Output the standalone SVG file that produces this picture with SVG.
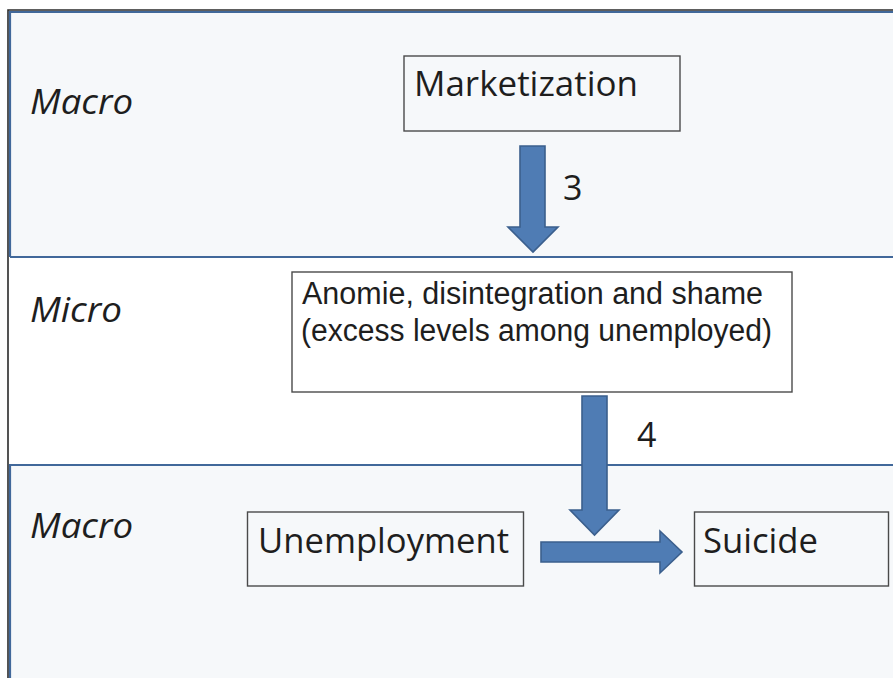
<svg xmlns="http://www.w3.org/2000/svg" width="893" height="678" viewBox="0 0 893 678">
  <style>
    .band { fill: #f6f8fa; }
    .bline { stroke: #41689a; stroke-width: 2.2; fill: none; }
    .frame { stroke: #2a2a2a; stroke-width: 1.6; fill: none; }
    .box { fill: none; stroke: #4a4a4a; stroke-width: 1.4; }
    .lbl { font-family: "Open Sans", "Liberation Sans", sans-serif; font-size: 34px; fill: #1e1e1e; }
    .sm { font-family: "Liberation Sans", "Open Sans", sans-serif; font-size: 31px; }
    .lvl { font-family: "Open Sans", "Liberation Sans", sans-serif; font-size: 34px; font-style: italic; fill: #1e1e1e; }
    .arrow { fill: #4f7cb4; stroke: #3b5f8d; stroke-width: 1.6; stroke-linejoin: miter; }
  </style>
  <rect x="0" y="0" width="893" height="678" fill="#ffffff"/>
  <g id="bands">
    <rect class="band" x="9" y="11" width="890" height="246"/>
    <rect class="band" x="9" y="465" width="890" height="220"/>
    <path class="frame" d="M8,680 V10 H893"/>
    <path class="bline" d="M10,680 V465 H893 M10,257 V12 H893 M10,257 H893"/>
    <text class="lvl" x="30" y="114" textLength="103" lengthAdjust="spacingAndGlyphs">Macro</text>
    <text class="lvl" x="30" y="322" textLength="92" lengthAdjust="spacingAndGlyphs">Micro</text>
    <text class="lvl" x="30" y="538" textLength="103" lengthAdjust="spacingAndGlyphs">Macro</text>
  </g>
  <g id="node-marketization">
    <rect class="box" x="404" y="56" width="276" height="75"/>
    <text class="lbl" x="414" y="96" textLength="224" lengthAdjust="spacingAndGlyphs">Marketization</text>
  </g>
  <g id="node-anomie">
    <rect class="box" x="292" y="272" width="500" height="120" fill="#ffffff"/>
    <text class="lbl sm" x="302" y="304" textLength="461" lengthAdjust="spacingAndGlyphs">Anomie, disintegration and shame</text>
    <text class="lbl sm" x="301" y="341" textLength="471" lengthAdjust="spacingAndGlyphs">(excess levels among unemployed)</text>
  </g>
  <g id="node-unemployment">
    <rect class="box" x="247.5" y="512" width="276" height="74"/>
    <text class="lbl" x="258" y="553" textLength="251" lengthAdjust="spacingAndGlyphs">Unemployment</text>
  </g>
  <g id="node-suicide">
    <rect class="box" x="694.5" y="512" width="194" height="74"/>
    <text class="lbl" x="703" y="553" textLength="115" lengthAdjust="spacingAndGlyphs">Suicide</text>
  </g>
  <g id="connectors">
    <path class="arrow" d="M520,146 H545 V227 H558 L533,252 L508,227 H520 Z"/>
    <text class="lbl" x="563" y="200">3</text>
    <path class="arrow" d="M582,396 H607 V510 H619 L594.5,535 L570,510 H582 Z"/>
    <text class="lbl" x="637" y="447">4</text>
    <path class="arrow" d="M541,542 H660 V531 L682,552 L660,573 V562 H541 Z"/>
  </g>
</svg>
